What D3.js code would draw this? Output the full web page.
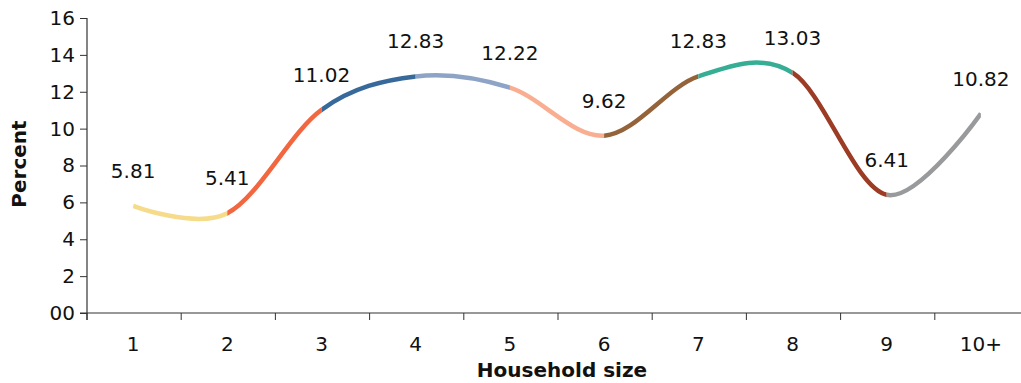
<!DOCTYPE html>
<html>
<head>
<meta charset="utf-8">
<script src="https://cdn.jsdelivr.net/npm/d3@7"></script>
<style>
  html, body { margin: 0; padding: 0; background: #fff; }
  svg { display: block; font-family: "DejaVu Sans", Verdana, sans-serif; }
</style>
</head>
<body>
<svg id="chart" width="1021" height="383"></svg>
<script>
// Household size categories and the share (percent) in each
const categories = ["1", "2", "3", "4", "5", "6", "7", "8", "9", "10+"];
const percents = [5.81, 5.41, 11.02, 12.83, 12.22, 9.62, 12.83, 13.03, 6.41, 10.82];
const labels = ["5.81", "5.41", "11.02", "12.83", "12.22", "9.62", "12.83", "13.03", "6.41", "10.82"];
// Colour of the curve from each category to the next
const segmentColors = ["#F6DC8A", "#F26640", "#376A9A", "#8EA4C6", "#F9AE91",
                       "#94633A", "#35AE95", "#9C3C25", "#999A9C"];
const yTickValues = [0, 2, 4, 6, 8, 10, 12, 14, 16];
const yTickLabels = ["00", "2", "4", "6", "8", "10", "12", "14", "16"];

const svg = d3.select("#chart");
const axisColor = "#333";
const fontSize = "20px";

const x = d3.scaleBand().domain(categories).range([86, 1028]).padding(0);
const y = d3.scaleLinear().domain([0, 16]).range([313, 18]);
const cx = c => x(c) + x.bandwidth() / 2;

// Y axis
const yAxis = svg.append("g").attr("transform", "translate(87,0)")
  .call(d3.axisLeft(y).tickValues(yTickValues)
    .tickFormat((d, i) => yTickLabels[i]).tickSize(7).tickPadding(5));
yAxis.select(".domain").remove();
yAxis.selectAll(".tick line").attr("stroke", axisColor);
yAxis.selectAll(".tick text").attr("fill", "#111")
  .style("font-size", fontSize).style("font-family", "DejaVu Sans, Verdana, sans-serif");
svg.append("line").attr("x1", 87).attr("x2", 87).attr("y1", y(16)).attr("y2", 320)
  .attr("stroke", axisColor).attr("stroke-width", 1.2);

// X axis: baseline and category boundary ticks
svg.append("line").attr("x1", 80).attr("x2", 1021).attr("y1", y(0)).attr("y2", y(0))
  .attr("stroke", axisColor).attr("stroke-width", 1.2);
svg.append("g").selectAll("line").data(categories).join("line")
  .attr("x1", d => x(d) + 1).attr("x2", d => x(d) + 1)
  .attr("y1", y(0)).attr("y2", y(0) + 7)
  .attr("stroke", axisColor);
svg.append("g").selectAll("text").data(categories).join("text")
  .attr("x", d => cx(d)).attr("y", 351)
  .attr("text-anchor", "middle").attr("fill", "#111")
  .style("font-size", fontSize).text(d => d);

// Axis titles
svg.append("text").attr("transform", "translate(26,164) rotate(-90)")
  .attr("text-anchor", "middle").attr("font-weight", "bold")
  .style("font-size", fontSize).attr("fill", "#111").text("Percent");
svg.append("text").attr("x", 562).attr("y", 377)
  .attr("text-anchor", "middle").attr("font-weight", "bold")
  .style("font-size", fontSize).attr("fill", "#111").text("Household size");

// Smoothed curve through all points, coloured piecewise via clip regions
const pts = categories.map((c, i) => [cx(c), y(percents[i])]);
const pathD = d3.line().curve(d3.curveCardinal.tension(0))(pts);
const defs = svg.append("defs");
segmentColors.forEach((col, i) => {
  defs.append("clipPath").attr("id", "seg" + i)
    .append("rect")
    .attr("x", pts[i][0]).attr("y", 0)
    .attr("width", pts[i + 1][0] - pts[i][0]).attr("height", 383);
  svg.append("path").attr("d", pathD)
    .attr("fill", "none").attr("stroke", col)
    .attr("stroke-width", 4.5).attr("stroke-linecap", "butt")
    .attr("clip-path", "url(#seg" + i + ")");
});

// Value labels above each point
svg.append("g").selectAll("text").data(categories).join("text")
  .attr("x", d => cx(d)).attr("y", (d, i) => y(percents[i]) - 28)
  .attr("text-anchor", "middle").attr("fill", "#111")
  .style("font-size", fontSize).text((d, i) => labels[i]);
</script>
</body>
</html>
